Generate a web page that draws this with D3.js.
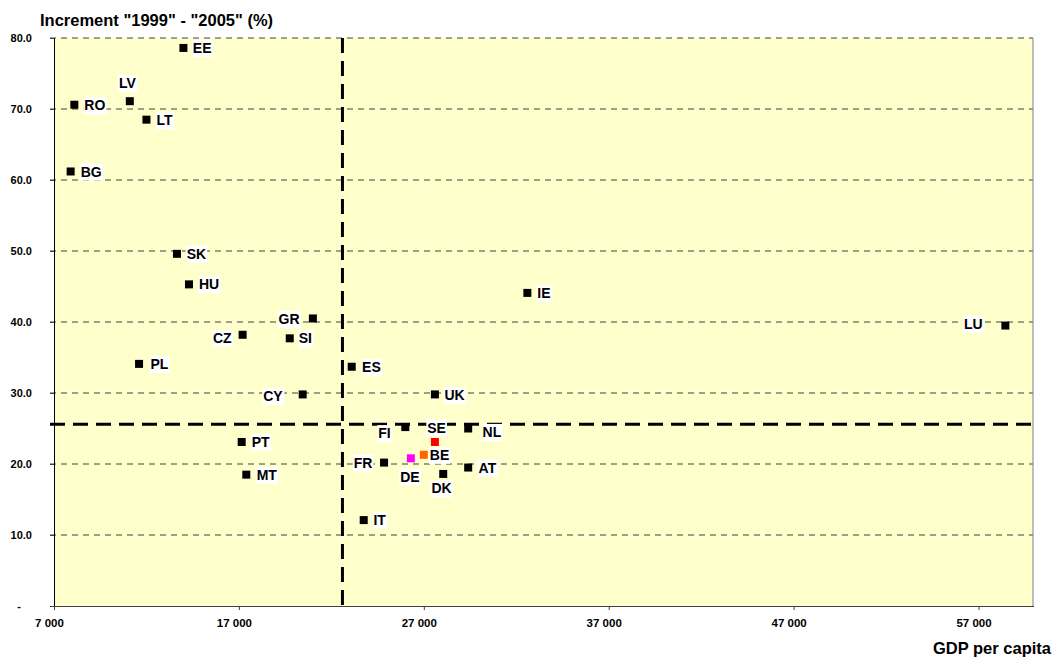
<!DOCTYPE html>
<html>
<head>
<meta charset="utf-8">
<script src="https://cdn.jsdelivr.net/npm/d3@7"></script>
<style>
  html, body { margin: 0; padding: 0; background: #ffffff; }
  svg { display: block; font-family: "Liberation Sans", Arial, sans-serif; }
</style>
</head>
<body>
<svg id="chart" width="1054" height="660"></svg>
<script>
// ---- Data ----
const countries = ["EE","LV","RO","LT","BG","SK","HU","GR","CZ","SI","PL","ES","CY","IE","LU","UK","FI","SE","NL","BE","DE","FR","AT","DK","IT","PT","MT"];
const gdpPerCapita = [14000,11100,8100,12000,7900,13650,14300,21000,17200,19750,11600,23100,20450,32600,58450,27600,26000,27600,29400,27000,26300,24850,29400,28050,23750,17150,17400];
const increment = [78.6,71.1,70.6,68.5,61.2,49.6,45.3,40.5,38.2,37.7,34.1,33.7,29.8,44.1,39.5,29.8,25.2,23.1,25.0,21.3,20.8,20.2,19.5,18.6,12.1,23.1,18.5];
const xTicks = [7000,17000,27000,37000,47000,57000];
const yTicks = [0,10,20,30,40,50,60,70,80];
const refGdp = 22600;      // vertical reference (average GDP per capita)
const refIncrement = 25.6; // horizontal reference (average increment)
const titleY = 'Increment "1999" - "2005" (%)';
const titleX = "GDP per capita";

// ---- Styling / layout (not data) ----
const highlight = { SE: "#ff0000", BE: "#ff6600", DE: "#ff00ff" };
// label placement: [anchor, dx, dy]
const labelPos = {
  EE:["start",9.4,0], LV:["middle",-2.5,-18], RO:["start",10,0.7], LT:["start",10,0.7],
  BG:["start",10,0], SK:["start",9.7,0], HU:["start",10,0], GR:["end",-13.3,0.7],
  CZ:["end",-11,3.3], SI:["start",9,0], PL:["start",11.4,0], ES:["start",10.4,0],
  CY:["end",-20,1.7], IE:["start",10,0], LU:["end",-22.6,-1.7], UK:["start",9.6,0.7],
  FI:["end",-14.7,6], SE:["middle",1.7,-14.4], NL:["start",14.4,3.4], BE:["start",6,0],
  DE:["middle",-1,18.3], FR:["end",-11.7,0], AT:["start",10.4,0], DK:["middle",-1.7,14.4],
  IT:["start",9.7,0], PT:["start",10,0], MT:["start",10.4,0]
};

const svg = d3.select("#chart");
const L = 54, R = 1034, T = 38, B = 606;
const x = d3.scaleLinear().domain([7000, 60000]).range([L, R]);
const y = d3.scaleLinear().domain([0, 80]).range([B, T]);

// plot background
svg.append("rect").attr("x", L).attr("y", T).attr("width", x(60000) - L - 1).attr("height", B - T)
  .attr("fill", "#ffffcc");

// horizontal gridlines
svg.append("g").selectAll("line").data(yTicks.filter(d => d > 0)).join("line")
  .attr("x1", L - 4).attr("x2", R - 1)
  .attr("y1", d => y(d)).attr("y2", d => y(d))
  .attr("stroke", "#404040").attr("stroke-width", 1).attr("stroke-dasharray", "6,5");

// right border
svg.append("line").attr("x1", R - 1).attr("x2", R - 1).attr("y1", T).attr("y2", B)
  .attr("stroke", "#808080").attr("stroke-width", 1);

// Y axis
const yAxis = d3.axisLeft(y).tickValues(yTicks).tickSize(4).tickPadding(18)
  .tickFormat(d => d === 0 ? "-" : d3.format(".1f")(d));
const gy = svg.append("g").attr("transform", `translate(${L},0)`).call(yAxis);
gy.select(".domain").attr("stroke", "#000").attr("stroke-width", 1);
gy.selectAll(".tick line").attr("stroke", "#404040");
gy.selectAll(".tick text").attr("font-size", "11px").attr("font-weight", "bold").attr("fill", "#000")
  .attr("font-family", "'Liberation Sans', Arial, sans-serif");
gy.selectAll(".tick text").filter(d => d === 0).attr("x", -33);

// X axis
const xAxis = d3.axisBottom(x).tickValues(xTicks).tickSize(4).tickPadding(9)
  .tickFormat(d => d3.format(",")(d).replace(/,/g, " "));
const gx = svg.append("g").attr("transform", `translate(0,${B})`).call(xAxis);
gx.select(".domain").attr("stroke", "#404040").attr("d", `M${L-4},0.5H${R}`);
gx.selectAll(".tick line").attr("stroke", "#404040");
gx.selectAll(".tick text").attr("font-size", "11.5px").attr("font-weight", "bold").attr("fill", "#000")
  .attr("font-family", "'Liberation Sans', Arial, sans-serif").attr("dx", -5);

// reference lines
svg.append("line").attr("x1", x(refGdp)).attr("x2", x(refGdp)).attr("y1", T).attr("y2", B + 4)
  .attr("stroke", "#000").attr("stroke-width", 3).attr("stroke-dasharray", "15,8");
svg.append("line").attr("x1", L - 4).attr("x2", R + 2).attr("y1", y(refIncrement)).attr("y2", y(refIncrement))
  .attr("stroke", "#000").attr("stroke-width", 3).attr("stroke-dasharray", "15,8");

// points
const pts = countries.map((c, i) => ({ c, gx: gdpPerCapita[i], inc: increment[i] }));
svg.append("g").selectAll("rect").data(pts).join("rect")
  .attr("x", d => x(d.gx) - 4).attr("y", d => y(d.inc) - 4)
  .attr("width", 8).attr("height", 8)
  .attr("fill", d => highlight[d.c] || "#000");

// labels with white boxes
const lg = svg.append("g");
pts.forEach(d => {
  const [anchor, dx, dy] = labelPos[d.c];
  const g = lg.append("g");
  const t = g.append("text")
    .attr("x", x(d.gx) + dx).attr("y", y(d.inc) + dy)
    .attr("dy", "0.36em").attr("text-anchor", anchor)
    .attr("font-size", "14px").attr("font-weight", "bold").attr("fill", "#000")
    .text(d.c);
  const bb = t.node().getBBox();
  g.insert("rect", "text").attr("x", bb.x - 1).attr("y", bb.y).attr("width", bb.width + 2)
    .attr("height", bb.height + 1).attr("fill", "#fff");
});

// titles
svg.append("text").attr("x", 40).attr("y", 26).attr("font-size", "16.5px").attr("font-weight", "bold")
  .attr("fill", "#000").text(titleY);
svg.append("text").attr("x", 1051).attr("y", 654).attr("text-anchor", "end").attr("font-size", "16.5px")
  .attr("font-weight", "bold").attr("fill", "#000").text(titleX);
</script>
</body>
</html>
